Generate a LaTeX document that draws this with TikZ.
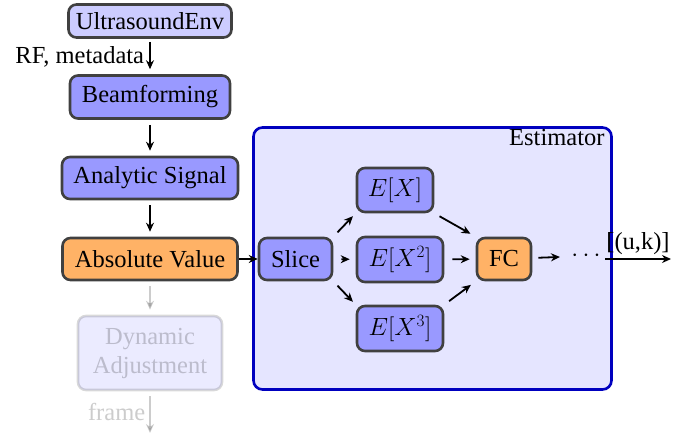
\documentclass[tikz,border=0pt]{standalone}
\usepackage{fontspec}
\setmainfont{Liberation Serif}
\usetikzlibrary{arrows.meta}
\begin{document}
\begin{tikzpicture}[x=1pt,y=-1pt,
  font=\rmfamily\fontsize{24.5}{29}\selectfont,
  box/.style={draw=black!75,line width=2.6pt,rounded corners=8pt,inner sep=0pt,align=center},
  bluebox/.style={box,fill=blue!40},
  arr/.style={-{Stealth[length=9pt,width=8pt]},line width=1.8pt},
  faded/.style={opacity=0.2}]
\useasboundingbox (0,0) rectangle (693,434);
% estimator background
\node[draw=blue!75!black,fill=blue!10,line width=2.6pt,rounded corners=9pt,minimum width=358pt,minimum height=262pt,inner sep=0pt] (est) at (432.5,258.5) {};
\node[anchor=north east] (estlbl) at (608,126) {Estimator};
% left column
\node[box,fill=blue!20,minimum width=163pt,minimum height=33pt] (env) at (150,21) {UltrasoundEnv};
\node[bluebox,minimum width=160pt,minimum height=43pt] (beam) at (150,97) {Beamforming};
\node[bluebox,minimum width=176pt,minimum height=42pt] (ana) at (150,178) {Analytic Signal};
\node[box,fill=orange!60,minimum width=175pt,minimum height=42pt] (abs) at (150,259) {Absolute Value};
\node[box,fill=blue!40,faded,minimum width=144pt,minimum height=74pt] (dyn) at (150,353) {Dynamic\\Adjustment};
\coordinate (frameend) at (150,433);
\draw[arr,shorten <=3pt,shorten >=5pt] (env) -- node[left,inner sep=5pt] (rf) {RF,\ metadata} (beam);
\draw[arr,shorten <=5pt,shorten >=5pt] (beam) -- (ana);
\draw[arr,shorten <=5pt,shorten >=5pt] (ana) -- (abs);
\draw[arr,faded,black,line width=1.6pt,shorten <=5pt,shorten >=5pt] (abs) -- (dyn);
\draw[arr,faded,black,line width=1.6pt,shorten <=5pt] (dyn) -- node[left,inner sep=4pt,text opacity=1,text=black!20] (fr) {frame} (frameend);
% estimator contents
\node[bluebox,minimum width=73pt,minimum height=42pt] (slice) at (295.5,259) {Slice};
\node[bluebox,minimum width=76pt,minimum height=44pt] (ex1) at (395,190) {$E[X]$};
\node[bluebox,minimum width=86pt,minimum height=45pt] (ex2) at (400,259.5) {$E[X^2]$};
\node[bluebox,minimum width=86pt,minimum height=45pt] (ex3) at (400,328.5) {$E[X^3]$};
\node[box,fill=orange!60,minimum width=54pt,minimum height=42pt] (fc) at (504,259) {FC};
\node (dots) at (586,256) {$\cdots$};
\coordinate (outstart) at (605,259);
\coordinate (outend) at (671,259);
\draw[arr] (abs) -- (slice);
\draw[arr,shorten <=6pt,shorten >=4pt] (slice.north east) -- (ex1.south west);
\draw[arr,shorten <=8pt,shorten >=6pt] (slice) -- (ex2);
\draw[arr,shorten <=6pt,shorten >=4pt] (slice.south east) -- (ex3.north west);
\draw[arr,shorten <=6pt,shorten >=6pt] (ex1.south east) -- (fc.north west);
\draw[arr,shorten <=8pt,shorten >=6pt] (ex2) -- (fc);
\draw[arr,shorten <=6pt,shorten >=6pt] (ex3.north east) -- (fc.south west);
\draw[arr,shorten <=6pt,shorten >=8pt] (fc) -- (dots);
\draw[arr] (outstart) -- node[above,inner sep=3pt] (uk) {[(u,k)]} (outend);
\end{tikzpicture}
\end{document}
